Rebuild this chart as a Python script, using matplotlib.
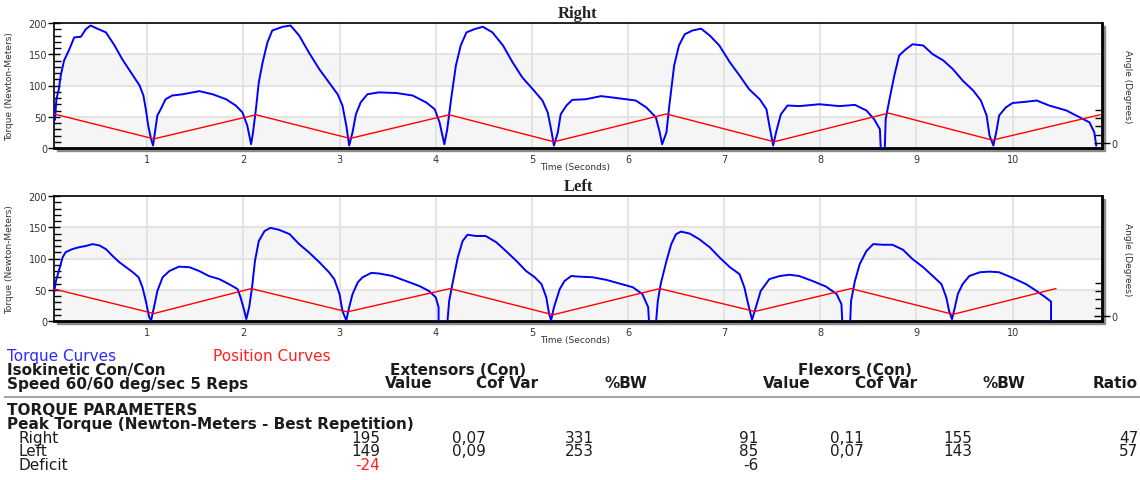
import matplotlib.pyplot as plt
from matplotlib.patches import Rectangle
from matplotlib.lines import Line2D
from matplotlib.ticker import MultipleLocator, FixedLocator

# ---------------- data ----------------
right_time = [0.03, 0.04, 0.055, 0.08, 0.10, 0.135, 0.19, 0.24, 0.31, 0.36,
              0.41, 0.48, 0.57, 0.66, 0.74, 0.83, 0.92, 0.96, 0.985, 1.01,
              1.04, 1.06, 1.08, 1.105, 1.14, 1.19, 1.26, 1.37, 1.54, 1.68,
              1.82, 1.92, 1.99, 2.04, 2.08, 2.10, 2.13, 2.16, 2.20, 2.25,
              2.30, 2.41, 2.49, 2.58, 2.68, 2.79, 2.89, 2.98, 3.03, 3.07,
              3.10, 3.135, 3.17, 3.22, 3.29, 3.41, 3.59, 3.76, 3.90, 3.99,
              4.04, 4.09, 4.12, 4.16, 4.21, 4.26, 4.32, 4.40, 4.49, 4.59,
              4.70, 4.80, 4.90, 5.01, 5.11, 5.165, 5.20, 5.23, 5.27, 5.30,
              5.36, 5.42, 5.56, 5.72, 5.88, 6.08, 6.19, 6.29, 6.33, 6.355,
              6.40, 6.43, 6.48, 6.53, 6.59, 6.67, 6.76, 6.85, 6.95, 7.06,
              7.16, 7.26, 7.37, 7.44, 7.47, 7.51, 7.54, 7.59, 7.66, 7.78,
              7.99, 8.20, 8.36, 8.48, 8.56, 8.62, 8.63, 8.67, 8.68, 8.72,
              8.77, 8.82, 8.89, 8.96, 9.07, 9.17, 9.28, 9.38, 9.48, 9.59,
              9.67, 9.73, 9.76, 9.80, 9.83, 9.86, 9.93, 10.00, 10.14, 10.25,
              10.38, 10.56, 10.70, 10.80, 10.85, 10.87]
right_torque = [60, 45, 78, 94, 116, 140, 158, 177, 178, 190,
                196, 191, 185, 164, 142, 121, 100, 84, 62, 36,
                14, 4, 25, 52, 62, 78, 84, 86, 91, 86,
                78, 68, 57, 36, 6, 25, 62, 105, 137, 169,
                188, 194, 196, 180, 153, 126, 105, 86, 68, 36,
                4, 25, 54, 73, 86, 89, 88, 84, 73, 62,
                41, 6, 30, 78, 132, 164, 185, 190, 194, 185,
                164, 137, 113, 94, 76, 57, 30, 4, 25, 54,
                68, 77, 78, 83, 80, 76, 65, 49, 25, 6,
                25, 68, 132, 164, 182, 188, 191, 180, 164, 137,
                116, 94, 78, 62, 36, 4, 25, 54, 68, 67,
                70, 67, 69, 60, 46, 30, -5, -5, 46, 78,
                116, 148, 158, 166, 164, 150, 140, 126, 108, 92,
                76, 52, 20, 4, 25, 52, 65, 72, 74, 76,
                68, 60, 49, 41, 25, 4]

left_time = [0.03, 0.05, 0.08, 0.12, 0.15, 0.22, 0.29, 0.36, 0.43, 0.50,
             0.57, 0.64, 0.71, 0.78, 0.85, 0.91, 0.95, 0.985, 1.02, 1.04,
             1.07, 1.105, 1.16, 1.23, 1.33, 1.44, 1.54, 1.64, 1.75, 1.85,
             1.94, 1.97, 2.01, 2.03, 2.06, 2.09, 2.12, 2.16, 2.22, 2.28,
             2.37, 2.48, 2.58, 2.68, 2.79, 2.89, 2.945, 3.00, 3.03, 3.07,
             3.10, 3.135, 3.19, 3.24, 3.33, 3.41, 3.55, 3.69, 3.83, 3.93,
             4.00, 4.03, 4.03, 4.12, 4.14, 4.18, 4.23, 4.28, 4.33, 4.42,
             4.52, 4.63, 4.73, 4.84, 4.94, 5.03, 5.10, 5.15, 5.18, 5.20,
             5.23, 5.29, 5.34, 5.41, 5.49, 5.63, 5.77, 5.91, 6.05, 6.15,
             6.21, 6.22, 6.29, 6.31, 6.34, 6.40, 6.45, 6.50, 6.55, 6.64,
             6.74, 6.85, 6.95, 7.06, 7.16, 7.21, 7.25, 7.29, 7.33, 7.38,
             7.47, 7.58, 7.68, 7.78, 7.92, 8.06, 8.17, 8.22, 8.23, 8.31,
             8.32, 8.36, 8.41, 8.48, 8.55, 8.65, 8.75, 8.86, 8.96, 9.07,
             9.17, 9.26, 9.31, 9.34, 9.37, 9.40, 9.43, 9.48, 9.55, 9.66,
             9.76, 9.86, 10.00, 10.14, 10.25, 10.35, 10.40, 10.40]
left_torque = [45, 64, 80, 102, 110, 115, 118, 120, 123, 121,
               115, 104, 94, 86, 78, 70, 54, 32, 6, 1,
               22, 48, 70, 80, 87, 86, 80, 72, 67, 59,
               51, 38, 16, 3, 22, 54, 96, 128, 144, 149,
               146, 139, 123, 110, 94, 78, 67, 43, 16, 1,
               22, 43, 62, 70, 77, 76, 72, 64, 56, 48,
               38, 22, -5, -5, 32, 64, 102, 128, 138, 136,
               136, 126, 112, 96, 80, 70, 59, 38, 11, 1,
               22, 51, 64, 72, 71, 70, 66, 60, 54, 43,
               22, -5, -5, 32, 59, 96, 123, 139, 143, 140,
               131, 118, 102, 86, 75, 54, 27, 2, 22, 48,
               67, 72, 74, 72, 64, 55, 43, 27, -5, -5,
               32, 64, 91, 112, 123, 122, 122, 114, 99, 86,
               72, 59, 38, 16, 3, 22, 43, 59, 72, 78,
               79, 78, 69, 59, 48, 37, 31, 0]

right_pos_time = [0.03, 1.07, 2.13, 3.11, 4.14, 5.23, 6.40, 7.52, 8.71, 9.79, 10.91]
right_angle = [70, 10, 68, 11, 68, 3, 70, 3, 72, 7, 68]
left_pos_time = [0.03, 1.07, 2.08, 3.08, 4.15, 5.22, 6.33, 7.32, 8.32, 9.38, 10.45]
left_angle = [65, 6, 66, 10, 66, 3, 66, 11, 66, 4, 66]

row_names = ['Right', 'Left', 'Deficit']
ext_value = ['195', '149', '-24']
ext_cofvar = ['0,07', '0,09', '']
ext_bw = ['331', '253', '']
flex_value = ['91', '85', '-6']
flex_cofvar = ['0,11', '0,07', '']
flex_bw = ['155', '143', '']
ratio = ['47', '57', '']

W, H = 1140, 481
fig = plt.figure(figsize=(W / 100, H / 100), dpi=100)


def fx(px):
    return px / W


def fy(py):
    return 1 - py / H


def panel(top, title, t, tq, pt, ang):
    left, right = 54, 1102
    # drop shadow behind the plot frame
    fig.add_artist(Rectangle((fx(left + 3), fy(top + 128)), fx(right - left), 125 / H,
                             transform=fig.transFigure, color='#8a8a8a', zorder=-1))
    ax = fig.add_axes([fx(left), fy(top + 125), fx(right - left), 125 / H])
    ax.set_facecolor('white')
    ax.axhspan(0, 50, color='#f5f5f5', zorder=0)
    ax.axhspan(100, 150, color='#f5f5f5', zorder=0)
    ax.set_axisbelow(True)
    ax.grid(color='#e2e2e2', lw=1.3)
    ax.plot(t, tq, color='#0000ff', lw=1.4, zorder=3)
    ax.set_xlim(0.03, 10.93)
    ax.set_ylim(0, 200)
    ax.set_xticks(range(1, 11))
    ax.set_yticks([0, 50, 100, 150, 200])
    ax.yaxis.set_minor_locator(MultipleLocator(10))
    ax.tick_params(axis='x', length=0, pad=4, labelsize=7, labelcolor='#333333')
    ax.tick_params(axis='y', which='major', direction='inout', length=8, width=1,
                   labelsize=7, labelcolor='#333333', pad=1)
    ax.tick_params(axis='y', which='minor', direction='in', length=5, width=1)
    for s in ['left', 'top']:
        ax.spines[s].set_linewidth(1.2)
    ax.spines['bottom'].set_linewidth(2)
    ax.spines['right'].set_visible(False)
    ax.set_ylabel('Torque (Newton-Meters)', fontsize=6.5, color='#333333')
    ax.yaxis.set_label_coords(-0.038, 0.5)
    ax.set_xlabel('Time (Seconds)', fontsize=6.5, color='#333333', va='center')
    ax.xaxis.set_label_coords(0.497, -0.152)
    ax.set_title(title, fontsize=12, fontweight='bold', family='Liberation Serif',
                 color='#222222', pad=4)

    ax2 = ax.twinx()
    ax2.plot(pt, ang, color='#ff0000', lw=1, zorder=2)
    ax2.set_ylim(-12, 289)
    ax2.set_yticks([0])
    ax2.yaxis.set_minor_locator(FixedLocator([20, 40, 60, 80]))
    ax2.tick_params(axis='y', which='major', direction='inout', length=12, width=1,
                    labelsize=7, labelcolor='#333333', pad=1)
    ax2.tick_params(axis='y', which='minor', direction='in', length=5, width=1)
    for s in ['left', 'top', 'bottom']:
        ax2.spines[s].set_visible(False)
    ax2.spines['right'].set_linewidth(2)
    ax2.set_ylabel('Angle (Degrees)', fontsize=6.5, color='#333333', rotation=270,
                   va='center', ha='center')
    ax2.yaxis.set_label_coords(1.024, 0.5)
    return ax


panel(24, 'Right', right_time, right_torque, right_pos_time, right_angle)
panel(197, 'Left', left_time, left_torque, left_pos_time, left_angle)

# ---------------- text table below the charts ----------------
dark = '#1c1c1c'
fs = 11


def txt(x, y, s, ha='left', bold=False, color=dark):
    fig.text(fx(x), fy(y), s, ha=ha, va='center', fontsize=fs,
             fontweight='bold' if bold else 'normal', color=color)


txt(7, 356.7, 'Torque Curves', color='#2a2aff')
txt(213, 356.7, 'Position Curves', color='#ff2020')
txt(7, 370.7, 'Isokinetic Con/Con', bold=True)
txt(458, 370.7, 'Extensors (Con)', ha='center', bold=True)
txt(855, 370.7, 'Flexors (Con)', ha='center', bold=True)
txt(7, 384, 'Speed 60/60 deg/sec 5 Reps', bold=True)
for x, s in [(409, 'Value'), (507, 'Cof Var'), (626, '%BW'),
             (787, 'Value'), (886, 'Cof Var'), (1004, '%BW')]:
    txt(x, 384, s, ha='center', bold=True)
txt(1138, 384, 'Ratio', ha='right', bold=True)

fig.add_artist(Line2D([fx(5), fx(1140)], [fy(398.3), fy(398.3)],
                      transform=fig.transFigure, color='#a6a6a6', lw=1.5))

txt(7, 410.7, 'TORQUE PARAMETERS', bold=True)
txt(7, 424, 'Peak Torque (Newton-Meters - Best Repetition)', bold=True)

row_y = [438.3, 451.7, 466]
for i, y in enumerate(row_y):
    txt(19, y, row_names[i])
    txt(380, y, ext_value[i], ha='right', color='#ff2020' if i == 2 else dark)
    txt(452, y, ext_cofvar[i])
    txt(565, y, ext_bw[i])
    txt(758, y, flex_value[i], ha='right')
    txt(830, y, flex_cofvar[i])
    txt(943, y, flex_bw[i])
    txt(1138, y, ratio[i], ha='right')

fig.savefig('out.png', dpi=100)
